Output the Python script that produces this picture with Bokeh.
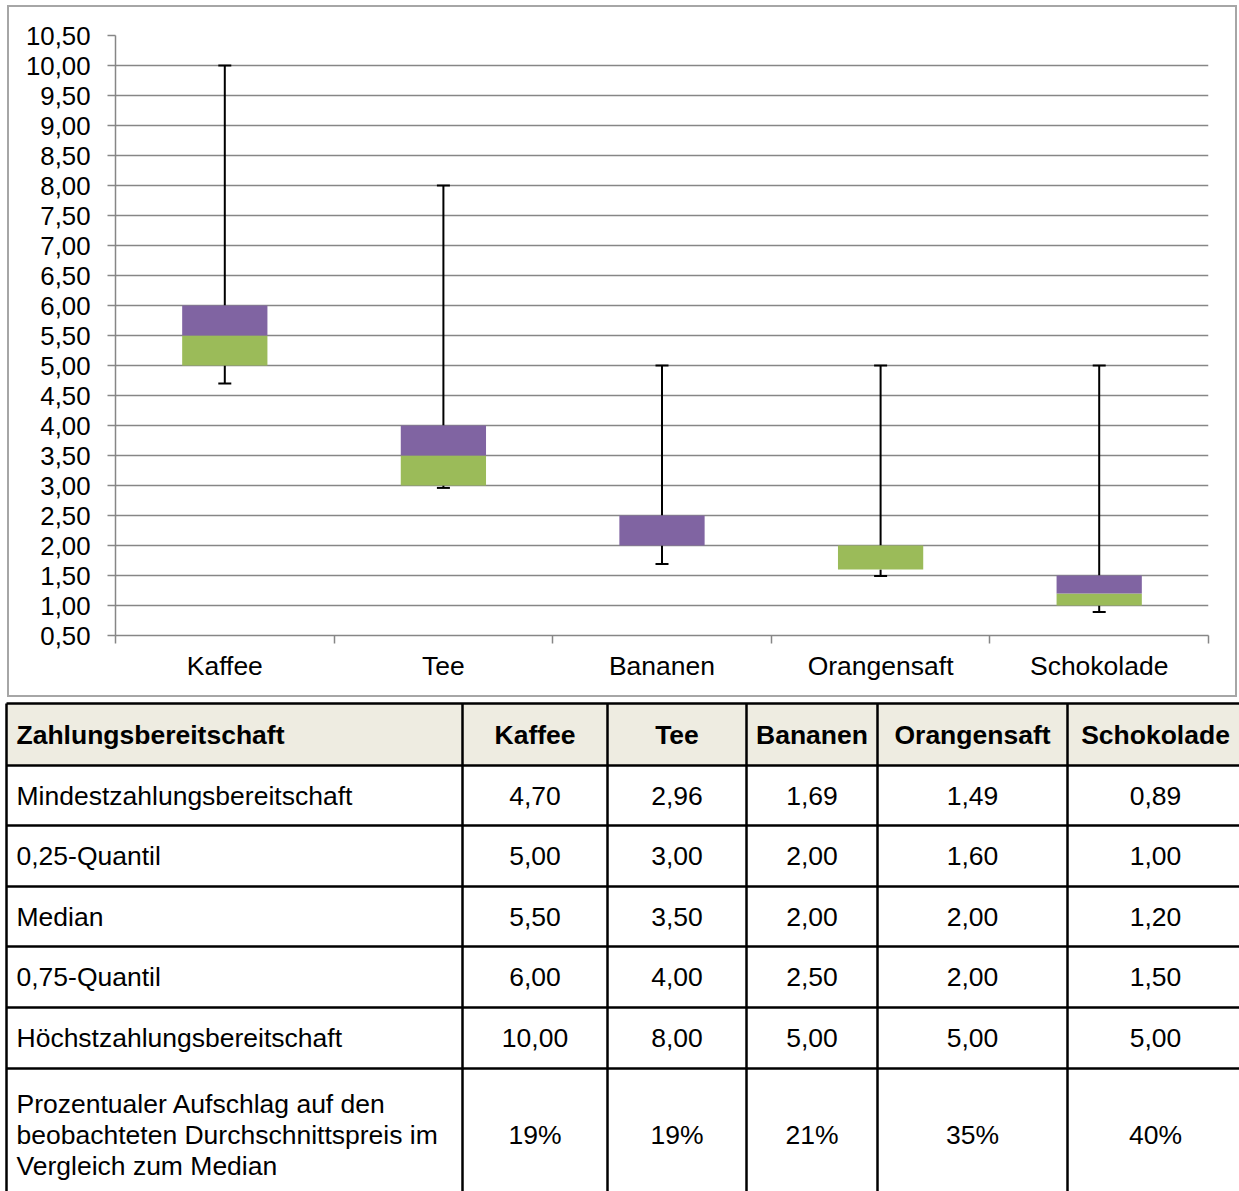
from bokeh.plotting import figure
from bokeh.models import (Range1d, FixedTicker, LinearAxis, CustomJSTickFormatter,
                          ColumnDataSource)
from bokeh.core.properties import value
from bokeh.embed import file_html
from bokeh.resources import INLINE

# ---------------- data ----------------
categories = ["Kaffee", "Tee", "Bananen", "Orangensaft", "Schokolade"]
min_vals = [4.70, 2.96, 1.69, 1.49, 0.89]
q1_vals = [5.00, 3.00, 2.00, 1.60, 1.00]
median_vals = [5.50, 3.50, 2.00, 2.00, 1.20]
q3_vals = [6.00, 4.00, 2.50, 2.00, 1.50]
max_vals = [10.00, 8.00, 5.00, 5.00, 5.00]
surcharge_pct = [19, 19, 21, 35, 40]
y_ticks = [0.5, 1.0, 1.5, 2.0, 2.5, 3.0, 3.5, 4.0, 4.5, 5.0, 5.5,
           6.0, 6.5, 7.0, 7.5, 8.0, 8.5, 9.0, 9.5, 10.0, 10.5]
table_header = "Zahlungsbereitschaft"
row_labels = ["Mindestzahlungsbereitschaft", "0,25-Quantil", "Median",
              "0,75-Quantil", "Höchstzahlungsbereitschaft"]
last_row_label = ["Prozentualer Aufschlag auf den",
                  "beobachteten Durchschnittspreis im",
                  "Vergleich zum Median"]

FONT = "Liberation Sans"
GRID = "#868686"
PURPLE = "#8064A2"
GREEN = "#9BBB59"

# ---------------- chart ----------------
n = len(categories)
xpos = [i + 0.5 for i in range(n)]   # category slots on a numeric scale

p = figure(width=1226, height=688, x_range=Range1d(0, n), y_range=Range1d(0.5, 10.5),
           output_backend="svg", toolbar_location=None, x_axis_location=None,
           min_border_left=106, min_border_right=27, min_border_top=28,
           min_border_bottom=60)
p.margin = (7, 0, 3, 9)
p.styles = {"outline": "2px solid #a6a6a6", "outline-offset": "0px"}
p.outline_line_color = None
p.xgrid.grid_line_color = None

xaxis = LinearAxis(ticker=FixedTicker(ticks=xpos, minor_ticks=list(range(n + 1))),
                   formatter=CustomJSTickFormatter(args=dict(names=categories),
                                                   code="return names[Math.floor(tick)];"))
xaxis.axis_line_color = GRID
xaxis.axis_line_width = 1.5
xaxis.major_tick_line_color = None
xaxis.major_tick_out = 8
xaxis.major_tick_in = 0
xaxis.minor_tick_line_color = GRID
xaxis.minor_tick_line_width = 1.5
xaxis.minor_tick_out = 8
xaxis.minor_tick_in = 0
xaxis.major_label_standoff = 7
xaxis.major_label_text_font = FONT
xaxis.major_label_text_font_size = "26.5px"
xaxis.major_label_text_color = "black"
p.add_layout(xaxis, "below")

yaxis = p.yaxis[0]
yaxis.ticker = FixedTicker(ticks=y_ticks, minor_ticks=[])
yaxis.formatter = CustomJSTickFormatter(code="return tick.toFixed(2).replace('.', ',');")
yaxis.axis_line_color = GRID
yaxis.axis_line_width = 1.5
yaxis.major_tick_line_color = GRID
yaxis.major_tick_line_width = 1.5
yaxis.major_tick_out = 8
yaxis.major_tick_in = 0
yaxis.minor_tick_line_color = None
yaxis.major_label_standoff = 17
yaxis.major_label_text_font = FONT
yaxis.major_label_text_font_size = "25.8px"
yaxis.major_label_text_color = "black"
p.ygrid.ticker = FixedTicker(ticks=y_ticks)
p.ygrid.grid_line_color = GRID
p.ygrid.grid_line_width = 1.5

src = ColumnDataSource(dict(x=xpos, lo=min_vals, q1=q1_vals, med=median_vals,
                            q3=q3_vals, hi=max_vals))
p.segment(x0="x", y0="q3", x1="x", y1="hi", source=src, line_color="black", line_width=2)
p.segment(x0="x", y0="lo", x1="x", y1="q1", source=src, line_color="black", line_width=2)
p.scatter(x="x", y="hi", source=src, marker="dash", size=13, line_color="black", line_width=2)
p.scatter(x="x", y="lo", source=src, marker="dash", size=13, line_color="black", line_width=2)
p.vbar(x="x", bottom="q1", top="med", width=0.39, source=src, fill_color=GREEN, line_color=None)
p.vbar(x="x", bottom="med", top="q3", width=0.39, source=src, fill_color=PURPLE, line_color=None)

# ---------------- table ----------------
TW, TH = 1239, 493
t = figure(width=TW, height=TH, x_range=Range1d(0, TW), y_range=Range1d(TH, 0),
           output_backend="svg", toolbar_location=None, x_axis_location=None,
           y_axis_location=None, min_border=0)
t.min_border_left = 0
t.min_border_right = 0
t.min_border_top = 0
t.min_border_bottom = 0
t.outline_line_color = None
t.xgrid.grid_line_color = None
t.ygrid.grid_line_color = None

col_edges = [6, 462, 607, 746, 877, 1067, 1243]
row_edges = [5, 67, 127, 188, 248, 309, 370, 497]

t.quad(left=[col_edges[0]], right=[col_edges[-1]], top=[row_edges[0]], bottom=[row_edges[1]],
       fill_color="#EEECE1", line_color=None)
t.segment(x0=[col_edges[0]] * len(row_edges), y0=row_edges,
          x1=[col_edges[-1]] * len(row_edges), y1=row_edges, line_color="black", line_width=2.5)
t.segment(x0=col_edges[:-1], y0=[row_edges[0]] * (len(col_edges) - 1),
          x1=col_edges[:-1], y1=[row_edges[-1]] * (len(col_edges) - 1),
          line_color="black", line_width=2.5)

centers = [(col_edges[i] + col_edges[i + 1]) / 2 for i in range(1, len(col_edges) - 1)]
rc = [(row_edges[i] + row_edges[i + 1]) / 2 for i in range(len(row_edges) - 1)]
TFS = "26.5px"

# header
t.text(x=[16], y=[rc[0]], text=[table_header], text_font=value(FONT), text_font_size=TFS,
       text_font_style="bold", text_baseline="middle", text_align="left", text_color="black")
t.text(x=centers, y=[rc[0]] * n, text=categories, text_font=value(FONT), text_font_size=TFS,
       text_font_style="bold", text_baseline="middle", text_align="center", text_color="black")

# body rows
series = [min_vals, q1_vals, median_vals, q3_vals, max_vals]
for r, (lab, vals) in enumerate(zip(row_labels, series)):
    yy = rc[r + 1]
    t.text(x=[16], y=[yy], text=[lab], text_font=value(FONT), text_font_size=TFS,
           text_baseline="middle", text_align="left", text_color="black")
    t.text(x=centers, y=[yy] * n, text=[f"{v:.2f}".replace(".", ",") for v in vals],
           text_font=value(FONT), text_font_size=TFS, text_baseline="middle",
           text_align="center", text_color="black")

# last row
ylast = 436
line_gap = 31
t.text(x=[16] * 3, y=[ylast - line_gap, ylast, ylast + line_gap], text=last_row_label,
       text_font=value(FONT), text_font_size=TFS, text_baseline="middle",
       text_align="left", text_color="black")
t.text(x=centers, y=[ylast] * n, text=[f"{v}%" for v in surcharge_pct],
       text_font=value(FONT), text_font_size=TFS, text_baseline="middle",
       text_align="center", text_color="black")

open("out.html", "w").write(file_html([p, t], INLINE))
